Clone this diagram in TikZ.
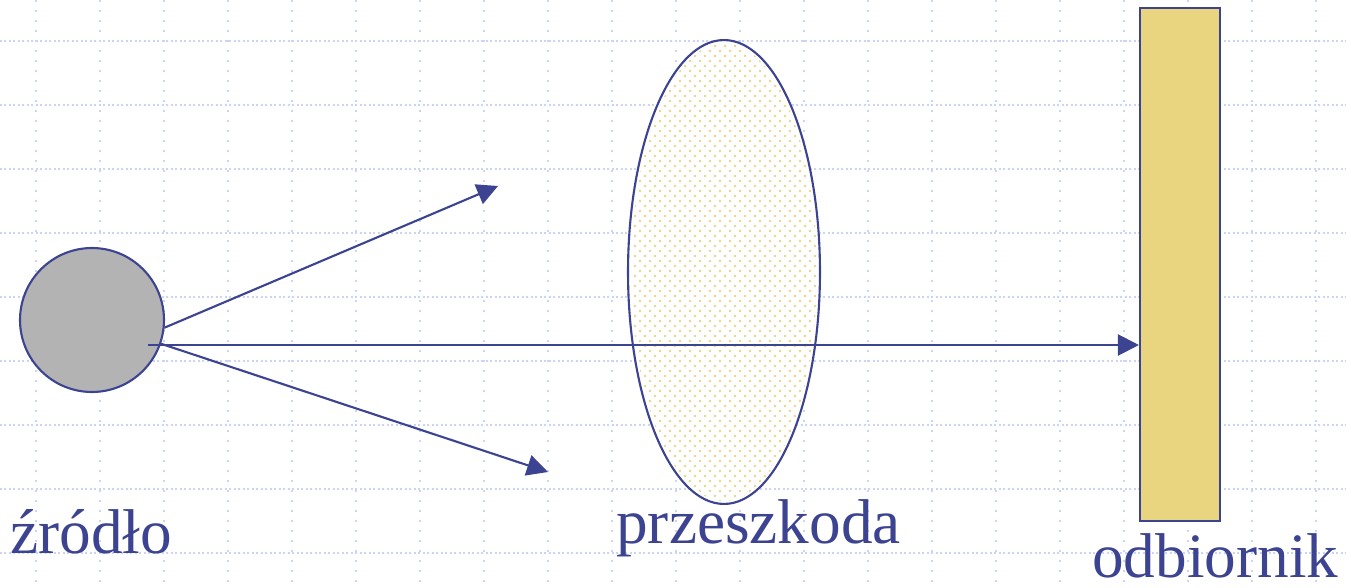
\documentclass[tikz,border=0pt]{standalone}
\usepackage{fontspec}
\setmainfont{Liberation Serif}
\usepackage{tikz}
\usetikzlibrary{shapes.geometric, arrows.meta, positioning}
\definecolor{inkC}{HTML}{3C4390}
\definecolor{gridC}{HTML}{C8D5F5}
\definecolor{srcgray}{HTML}{B3B3B3}
\definecolor{recvC}{HTML}{E9D580}
\definecolor{dotC}{HTML}{EBD488}
\tikzset{
  gridH/.style={gridC, line width=1.1pt, dash pattern=on 0.04cm off 0.05cm},
  gridV/.style={gridC, line width=1.1pt, dash pattern=on 0.04cm off 0.16cm},
  source/.style={circle, draw=inkC, fill=srcgray, line width=1.2pt, minimum size=2.88cm, inner sep=0pt},
  obstacle/.style={ellipse, draw=inkC, fill=white, line width=1.2pt, minimum width=3.84cm, minimum height=9.28cm, inner sep=0pt},
  receiver/.style={rectangle, draw=inkC, fill=recvC, line width=1.2pt, minimum width=1.6cm, minimum height=10.26cm, inner sep=0pt},
  ray/.style={-{Triangle[length=0.42cm, width=0.42cm]}, line width=1.2pt, draw=inkC, fill=inkC},
  lbl/.style={anchor=base west, inner sep=0pt, text=inkC, font=\fontsize{36}{40}\selectfont}
}
\begin{document}
\begin{tikzpicture}[x=0.02cm, y=-0.02cm]
  \useasboundingbox (0,0) rectangle (1346,588);

  % ── Grid ──
  \foreach \k in {0,...,8}
    \draw[gridH] (0,41+64*\k) -- (1346,41+64*\k);
  \foreach \k in {0,...,20}
    \draw[gridV] (36+64*\k,0) -- (36+64*\k,588);

  % ── Obstacle ──
  \node[obstacle] (przeszkoda) at (724,272) {};
  \begin{scope}
    \clip (724,272) ellipse [x radius=93, y radius=229];
    \foreach \r in {0,...,93}
      \foreach \c in {0,...,19}
        \fill[dotC] ({630+10*\c+5*mod(\r,2)},{41+5*\r}) circle[radius=1.4];
  \end{scope}

  % ── Source and receiver ──
  \node[source] (zrodlo) at (92,320) {};
  \node[receiver] (odbiornik) at (1180,264.5) {};

  % ── Rays ──
  \coordinate (srcC) at (148,345);
  \coordinate (rayUp) at (498,186);
  \coordinate (rayDown) at (548,472);
  \draw[ray] (zrodlo.-6) -- (rayUp);
  \draw[ray] (zrodlo.-19) -- (rayDown);
  \draw[ray] (srcC) -- (odbiornik.west |- srcC);

  % ── Labels ──
  \node[lbl] (lSrc) at (10,553) {źródło};
  \node[lbl] (lObs) at (616,543) {przeszkoda};
  \node[lbl] (lRecv) at (1092,577) {odbiornik};
\end{tikzpicture}
\end{document}
